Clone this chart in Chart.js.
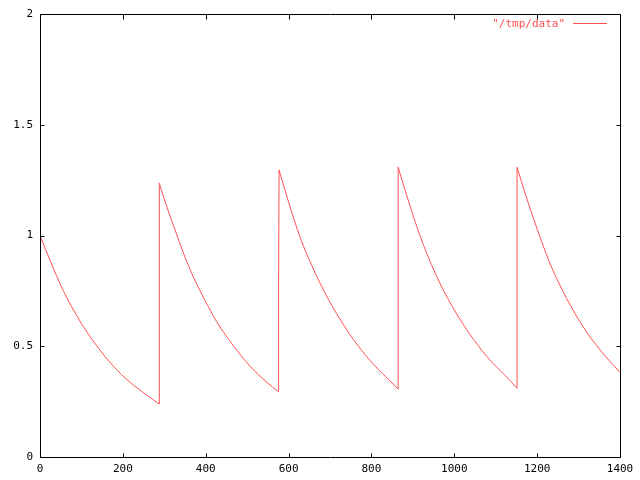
<!DOCTYPE html>
<html>
<head>
<meta charset="utf-8">
<script src="https://cdn.jsdelivr.net/npm/chart.js@4.4.1/dist/chart.umd.min.js"></script>
<style>
  html, body { margin: 0; padding: 0; background: #ffffff; }
  #wrap { width: 640px; height: 480px; }
</style>
</head>
<body>
<div id="wrap"><canvas id="plot" width="640" height="480"></canvas></div>
<script>
  // values, one pair of arrays per decay segment
  const seg1X = [0, 24, 56, 96, 137, 177, 217, 257, 288];
  const seg1Y = [1.0, 0.889, 0.752, 0.615, 0.502, 0.410, 0.338, 0.280, 0.239];

  const seg2X = [288, 306, 326, 346, 366, 386, 406, 426, 467, 507, 547, 575.3];
  const seg2Y = [1.236, 1.130, 1.025, 0.922, 0.830, 0.752, 0.680, 0.612, 0.502, 0.410, 0.338, 0.295];

  const seg3X = [577, 595, 615, 636, 656, 676, 696, 716, 756, 797, 837, 864.5];
  const seg3Y = [1.296, 1.182, 1.062, 0.952, 0.865, 0.785, 0.712, 0.647, 0.532, 0.435, 0.358, 0.307];

  const seg4X = [864.5, 885, 905, 925, 945, 965, 986, 1006, 1046, 1086, 1126, 1151.5];
  const seg4Y = [1.308, 1.182, 1.065, 0.960, 0.868, 0.786, 0.710, 0.645, 0.532, 0.438, 0.362, 0.310];

  const seg5X = [1151.5, 1171, 1191, 1211, 1231, 1251, 1271, 1311, 1352, 1400];
  const seg5Y = [1.308, 1.190, 1.078, 0.972, 0.874, 0.791, 0.716, 0.588, 0.483, 0.382];

  // the vertical jumps between segments (null breaks the line)
  const jumpX = [288, 288, null, 575.3, 576, 577, null, 864.5, 864.5, null, 1151.5, 1151.5];
  const jumpY = [0.239, 1.236, null, 0.295, 0.79, 1.296, null, 0.307, 1.308, null, 0.310, 1.308];

  const xTicks = [0, 200, 400, 600, 800, 1000, 1200, 1400];
  const yTicks = [0, 0.5, 1, 1.5, 2];

  const seriesName = '"/tmp/data"';
  const lineColor = '#ff5050';

  function toPoints(xs, ys) {
    return xs.map((x, i) => ({ x: x === null ? NaN : x, y: ys[i] === null ? NaN : ys[i] }));
  }

  function curve(xs, ys) {
    return {
      label: seriesName,
      data: toPoints(xs, ys),
      showLine: true,
      borderColor: lineColor,
      backgroundColor: lineColor,
      borderWidth: 1,
      pointRadius: 0,
      cubicInterpolationMode: 'monotone'
    };
  }

  Chart.defaults.font.family = '"DejaVu Sans Mono", "Liberation Mono", monospace';
  Chart.defaults.font.size = 11;
  Chart.defaults.color = '#000000';

  // gnuplot style frame with inward ticks on all four sides, plus the key
  const framePlugin = {
    id: 'frame',
    afterDraw(chart) {
      const ctx = chart.ctx;
      const a = chart.chartArea;
      const xs = chart.scales.x;
      const ys = chart.scales.y;
      const L = Math.round(a.left) + 0.5, R = Math.round(a.right) + 0.5;
      const T = Math.round(a.top) + 0.5, B = Math.round(a.bottom) + 0.5;
      ctx.save();
      ctx.strokeStyle = '#000000';
      ctx.lineWidth = 1;
      ctx.beginPath();
      ctx.rect(L, T, R - L, B - T);
      xTicks.forEach(v => {
        const px = Math.round(xs.getPixelForValue(v)) + 0.5;
        ctx.moveTo(px, B); ctx.lineTo(px, B - 4);
        ctx.moveTo(px, T); ctx.lineTo(px, T + 5);
      });
      yTicks.forEach(v => {
        const py = Math.round(ys.getPixelForValue(v)) + 0.5;
        ctx.moveTo(L, py); ctx.lineTo(L + 4, py);
        ctx.moveTo(R, py); ctx.lineTo(R - 4, py);
      });
      ctx.stroke();

      // key, top right
      ctx.fillStyle = lineColor;
      ctx.strokeStyle = lineColor;
      ctx.font = '11px "DejaVu Sans Mono", monospace';
      ctx.textAlign = 'right';
      ctx.textBaseline = 'middle';
      ctx.fillText(seriesName, 565, 24);
      ctx.beginPath();
      ctx.moveTo(573, 23.5);
      ctx.lineTo(607, 23.5);
      ctx.stroke();
      ctx.restore();
    }
  };

  const ctxPlot = document.getElementById('plot').getContext('2d');

  const plot = new Chart(ctxPlot, {
    type: 'scatter',
    data: {
      datasets: [
        curve(seg1X, seg1Y),
        curve(seg2X, seg2Y),
        curve(seg3X, seg3Y),
        curve(seg4X, seg4Y),
        curve(seg5X, seg5Y),
        {
          label: seriesName,
          data: toPoints(jumpX, jumpY),
          showLine: true,
          spanGaps: false,
          borderColor: lineColor,
          borderWidth: 1,
          pointRadius: 0,
          tension: 0
        }
      ]
    },
    options: {
      responsive: false,
      animation: false,
      layout: { padding: { left: 0, right: 20, top: 14, bottom: 0 } },
      plugins: {
        legend: { display: false },
        tooltip: { enabled: false }
      },
      scales: {
        x: {
          type: 'linear',
          min: 0,
          max: 1400,
          grid: { display: false, drawTicks: false },
          border: { display: false },
          afterBuildTicks: (scale) => { scale.ticks = xTicks.map(v => ({ value: v })); },
          afterFit: (scale) => { scale.height = 23; },
          ticks: {
            padding: 6, maxRotation: 0, autoSkip: false, color: '#000000',
            callback: (v) => String(v)
          }
        },
        y: {
          type: 'linear',
          min: 0,
          max: 2,
          grid: { display: false, drawTicks: false },
          border: { display: false },
          afterBuildTicks: (scale) => { scale.ticks = yTicks.map(v => ({ value: v })); },
          afterFit: (scale) => { scale.width = 40; },
          ticks: { padding: 7, color: '#000000', callback: (v) => String(v) }
        }
      }
    },
    plugins: [framePlugin]
  });
</script>
</body>
</html>
